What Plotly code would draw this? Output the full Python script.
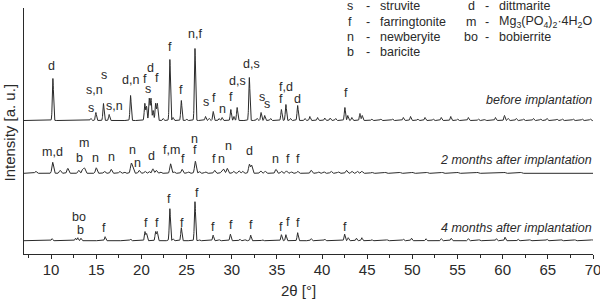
import numpy as np
import plotly.graph_objects as go

# ---------------- data ----------------
two_theta_range = [7, 70]
x_ticks = [10, 15, 20, 25, 30, 35, 40, 45, 50, 55, 60, 65, 70]

pattern_names = ["before implantation", "2 months after implantation", "4 months after implantation"]
pattern_offsets = [133.5, 80.7, 13.3]
pattern_widths = [0.065, 0.09, 0.065]

before_pos = [10.2, 14.4, 14.96, 15.8, 16.43, 18.8, 20.38, 20.57, 20.87, 21.06, 21.3, 21.57, 21.76,
              22.4, 23.15, 23.5, 24.42, 25.0, 25.93, 27.1, 27.5, 27.95, 28.6, 28.93, 29.9, 30.25,
              30.6, 31.95, 32.8, 33.25, 33.65, 34.3, 35.5, 36.0, 36.5, 37.3, 38.1, 38.65, 39.5,
              40.3, 40.9, 41.5, 42.53, 42.85, 43.3, 44.2, 44.45, 45.5, 46.5, 47.8, 49.0, 49.8,
              50.6, 51.4, 52.3, 53.2, 54.25, 55.0, 56.2, 57.3, 58.0, 59.2, 60.2, 60.6, 61.5,
              62.3, 63.4, 64.2, 64.9, 66.0, 66.6, 67.8, 68.8, 69.7]
before_int = [42, 2, 8, 17, 6, 25, 17, 14, 22, 22, 10, 17, 17,
              2, 61, 3, 20, 1.5, 72, 4, 2, 9, 2, 3, 11, 4,
              13, 43, 2, 8, 5, 2, 11, 16, 2, 15, 2, 4, 3,
              2.5, 2.5, 2, 13, 5, 3, 7, 5, 1.5, 1.5, 1.5, 3, 4,
              1.5, 3, 1.5, 3, 4, 1.5, 3, 1.5, 1, 3, 5, 2, 2,
              1.5, 2, 1.5, 2, 1.5, 1.5, 1.5, 1.5, 1.5]

m2_pos = [8.3, 10.18, 11.0, 11.85, 13.06, 13.5, 13.7, 15.0, 15.9, 16.65, 17.6, 18.1, 18.87, 19.05,
          19.75, 20.4, 20.85, 21.27, 21.64, 22.1, 23.23, 23.6, 24.5, 25.2, 25.97, 26.4, 27.1,
          28.1, 28.9, 29.1, 29.5, 30.2, 30.8, 31.2, 31.95, 32.2, 33.2, 33.7, 34.9, 35.5, 36.05,
          36.6, 37.3, 38.8, 39.6, 40.2, 41.0, 41.8, 42.7, 43.3, 43.9, 44.4, 45.5, 47.0, 48.6,
          50.0, 51.6, 53.3, 55.0, 57.2, 60.2, 62.0]
m2_int = [2, 11, 3, 5, 3, 4, 5, 5.5, 2, 4, 2, 1.5, 9.5, 5,
          3, 2, 2, 4.5, 3, 1.5, 9.5, 1.5, 4, 1.5, 12, 2, 1.5,
          3, 2.5, 4, 5, 2, 2.5, 2, 9, 8, 2.5, 2, 4, 2, 2.5,
          1.5, 2, 3, 1.5, 1.5, 2, 1.5, 3, 2, 2, 2, 1, 1, 1,
          1, 1, 1, 1, 1, 1, 1]

m4_pos = [10.1, 12.7, 12.95, 13.3, 15.98, 18.8, 20.4, 20.58, 21.57, 21.75, 23.15, 23.5, 24.42,
          25.93, 26.4, 27.94, 28.6, 29.85, 30.9, 31.5, 32.1, 33.4, 35.5, 36.0, 37.3, 38.8, 40.3,
          42.5, 42.9, 43.8, 44.4, 45.5, 47.2, 49.0, 49.9, 51.5, 53.2, 54.3, 56.2, 57.4, 59.3,
          60.26, 61.7, 63.0, 64.9, 66.5, 68.0, 69.9]
m4_int = [2, 2.5, 3, 2.5, 4, 1.5, 9, 7, 9, 9, 32, 2, 13,
          39, 1, 5.5, 1, 6.5, 1.5, 1, 5.5, 1, 6, 6, 8, 2, 1.5,
          6.5, 3, 2.5, 3, 1, 1, 1.5, 2.5, 2, 2, 2.5, 2, 1, 2,
          3.5, 1.5, 1, 1.5, 1, 1, 1]

before_lbl_text = ["d", "s,n", "s", "s", "s,n", "d,n", "f", "s", "d", "f", "f", "n,f", "f", "s", "f",
                   "n", "f", "d,s", "d,s", "s", "s", "f,d", "f", "d", "f"]
before_lbl_x = [10.07, 14.8, 14.45, 15.9, 17.0, 18.84, 20.4, 20.7, 21.06, 21.7, 23.2, 25.9, 24.4, 27.2,
                28.07, 29.0, 29.9, 30.6, 32.2, 33.4, 33.9, 36.0, 35.5, 37.3, 42.6]
before_lbl_y = [188.3, 164, 146.3, 179, 148, 174, 175, 164.7, 185.7, 175.7, 207.3, 219.7, 164, 152.3,
                155.7, 144.7, 157.3, 173, 190, 157.3, 149.7, 167.3, 155, 155, 161.3]

m2_lbl_text = ["m,d", "m", "b", "n", "n", "n", "n", "d", "f,m", "f", "n", "f", "f", "n", "n", "d",
               "n", "f", "f"]
m2_lbl_x = [10.18, 13.6, 13.1, 14.9, 16.65, 18.98, 19.6, 21.1, 23.3, 24.6, 25.85, 25.97, 28.0, 28.82,
            29.6, 32.0, 34.85, 36.2, 37.35]
m2_lbl_y = [102.3, 110.7, 95.7, 95.7, 97.3, 104, 90.7, 98.3, 104, 95, 115, 104, 95, 95,
            108.3, 103, 95, 95, 95]

m4_lbl_text = ["bo", "b", "f", "f", "f", "f", "f", "f", "f", "f", "f", "f", "f", "f", "f"]
m4_lbl_x = [13.06, 13.3, 15.9, 20.5, 21.7, 23.1, 24.45, 26.1, 27.92, 29.93, 32.15, 35.5, 36.2,
            37.35, 42.57]
m4_lbl_y = [37.3, 24, 25.7, 30.7, 30.7, 54.7, 30.7, 60.7, 27.3, 29, 29, 27.3, 32.3, 30.7, 27.3]

legend_sym = ["s", "f", "n", "b", "d", "m", "bo"]
legend_name = ["struvite", "farringtonite", "newberyite", "baricite", "dittmarite",
               "Mg<sub>3</sub>(PO<sub>4</sub>)<sub>2</sub>·4H<sub>2</sub>O", "bobierrite"]

# ---------------- figure ----------------
FONT = "Liberation Sans, Arial, sans-serif"
COL = "#2a2a2a"
W, H = 600, 299
ML, MR, MT, MB = 24, 7, 8, 45
PW, PH = W - ML - MR, H - MT - MB


def px_to_paper(px, py):
    return (px - ML) / PW, (H - MB - py) / PH


x = np.arange(two_theta_range[0], two_theta_range[1] + 0.001, 0.01)


def profile(pos, inten, sigma, base):
    y = np.full_like(x, base, dtype=float)
    for p, h in zip(pos, inten):
        y += h * np.exp(-0.5 * ((x - p) / sigma) ** 2)
    return y


fig = go.Figure()
series = [(before_pos, before_int), (m2_pos, m2_int), (m4_pos, m4_int)]
for (pos, inten), off, sig, name in zip(series, pattern_offsets, pattern_widths, pattern_names):
    fig.add_trace(go.Scatter(x=x, y=profile(pos, inten, sig, off), mode="lines",
                             line=dict(color=COL, width=1), name=name, showlegend=False,
                             hoverinfo="skip"))

ann = []
for texts, xs, ys in [(before_lbl_text, before_lbl_x, before_lbl_y),
                      (m2_lbl_text, m2_lbl_x, m2_lbl_y),
                      (m4_lbl_text, m4_lbl_x, m4_lbl_y)]:
    for t, xx, yy in zip(texts, xs, ys):
        ann.append(dict(x=xx, y=yy, xref="x", yref="y", text=t, showarrow=False,
                        xanchor="center", yanchor="middle",
                        font=dict(family=FONT, size=12.5, color=COL)))

# sample names (right aligned)
name_py = [100, 160, 228.3]
for name, py in zip(pattern_names, name_py):
    ax, ay = px_to_paper(594, py)
    ann.append(dict(x=ax, y=ay, xref="paper", yref="paper", text="<i>" + name + "</i>",
                    showarrow=False, xanchor="right", yanchor="middle",
                    font=dict(family=FONT, size=12.5, color=COL)))

# legend block
rows_py = [6, 21.7, 36.7, 52.3]
col_sym_px = [350, 471]
col_dash_px = [368, 487]
col_name_px = [378, 496.5]
for i, (s, nm) in enumerate(zip(legend_sym, legend_name)):
    c = 0 if i < 4 else 1
    r = i if i < 4 else i - 4
    py = rows_py[r]
    for txt, pxx, anc in [(s, col_sym_px[c], "center"), ("-", col_dash_px[c], "center"),
                          (nm, col_name_px[c], "left")]:
        ax, ay = px_to_paper(pxx, py)
        ann.append(dict(x=ax, y=ay, xref="paper", yref="paper", text=txt, showarrow=False,
                        xanchor=anc, yanchor="middle",
                        font=dict(family=FONT, size=12.5, color=COL)))

# axis titles
ax, ay = px_to_paper(298, 290)
ann.append(dict(x=ax, y=ay, xref="paper", yref="paper", text="2θ [°]", showarrow=False,
                xanchor="center", yanchor="middle", font=dict(family=FONT, size=15, color=COL)))
ax, ay = px_to_paper(8.5, 133)
ann.append(dict(x=ax, y=ay, xref="paper", yref="paper", text="Intensity [a. u.]", showarrow=False,
                textangle=-90, xanchor="center", yanchor="middle",
                font=dict(family=FONT, size=15, color=COL)))

fig.update_layout(
    width=W, height=H,
    margin=dict(l=ML, r=MR, t=MT, b=MB, autoexpand=False),
    paper_bgcolor="white", plot_bgcolor="white",
    annotations=ann,
    xaxis=dict(range=two_theta_range, showline=True, linecolor=COL, linewidth=1,
               automargin=False,
               ticks="outside", ticklen=4, tickwidth=1, tickcolor=COL,
               tickvals=x_ticks, showgrid=False, zeroline=False,
               ticklabeloverflow="allow", ticklabelstandoff=-2,
               tickfont=dict(family=FONT, size=15, color=COL),
               minor=dict(ticks="outside", ticklen=2.5, tickwidth=1, tickcolor=COL, dtick=2.5,
                          tick0=0, showgrid=False)),
    yaxis=dict(range=[0, PH], showline=True, linecolor=COL, linewidth=1, ticks="",
               automargin=False,
               showticklabels=False, showgrid=False, zeroline=False),
)

fig.write_html("out.html", config={"displayModeBar": False},
               post_script=("document.documentElement.style.overflow='hidden';"
                            "document.body.style.overflow='hidden';"
                            "document.body.style.margin='0px';document.body.style.padding='0px';"))
